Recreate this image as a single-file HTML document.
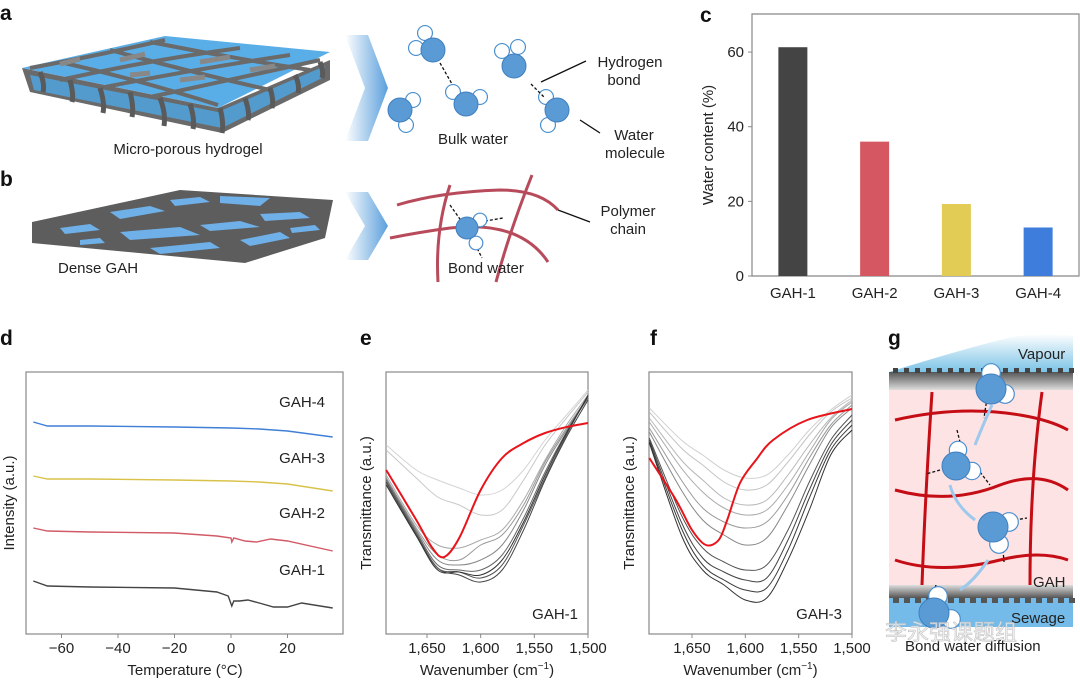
<!DOCTYPE html>
<html><head><meta charset="utf-8"><style>
html,body{margin:0;padding:0;background:#fff;}
svg{display:block;font-family:"Liberation Sans",sans-serif;}
</style></head><body>
<svg id="fig" width="1080" height="685" viewBox="0 0 1080 685" xmlns="http://www.w3.org/2000/svg">
<defs>
<linearGradient id="chev" x1="0" x2="1" y1="0" y2="0"><stop offset="0" stop-color="#fff"/><stop offset="1" stop-color="#5b9fdc"/></linearGradient>
<linearGradient id="vap" x1="0" x2="0" y1="0" y2="1"><stop offset="0" stop-color="#fff"/><stop offset="1" stop-color="#7cc3e6"/></linearGradient>
<linearGradient id="gband" x1="0" x2="0" y1="0" y2="1"><stop offset="0" stop-color="#555"/><stop offset="1" stop-color="#ddd"/></linearGradient>
<linearGradient id="gband2" x1="0" x2="0" y1="0" y2="1"><stop offset="0" stop-color="#ddd"/><stop offset="1" stop-color="#555"/></linearGradient>
</defs>
<!-- panel letters -->
<g font-weight="bold" font-size="21" fill="#111">
<text x="0" y="20">a</text><text x="0" y="186">b</text><text x="700" y="22">c</text>
<text x="0" y="345">d</text><text x="360" y="345">e</text><text x="650" y="345">f</text><text x="888" y="345">g</text>
</g>
<!-- panel a -->
<g>
<polygon points="22,68 218,108 330,60 330,80 222,133 30,92" fill="#6a6a6a"/>
<polygon points="22,68 165,36 330,52 218,108" fill="#5aaee8"/>
<polygon points="30,75 218,112 325,66 322,78 222,128 34,90" fill="#4ea6e6" opacity="0.8"/>
<path d="M30,68 Q100,55 165,40 M60,80 Q150,60 240,48 M100,88 Q190,70 290,55 M150,97 Q230,80 320,60 M60,62 Q140,80 218,105 M110,50 Q190,72 270,90 M150,42 Q230,58 310,70" stroke="#6a6a6a" stroke-width="4" fill="none"/>
<path d="M40,72 q5,12 3,20 M70,80 q4,15 2,22 M100,88 q5,15 3,25 M130,92 q4,15 2,25 M160,98 q6,15 4,28 M190,104 q5,15 3,25 M220,108 q4,15 2,25 M245,98 q5,15 3,22 M270,88 q4,12 2,20 M295,75 q5,10 3,18 M320,62 q4,10 2,16" stroke="#5a5a5a" stroke-width="5" fill="none"/>
<path d="M60,64 l20,-5 M120,60 l25,-6 M200,62 l30,-5 M180,80 l25,-3 M250,70 l25,-4 M130,75 l20,-2" stroke="#888" stroke-width="5" fill="none"/>
</g>
<text x="188" y="154" font-size="15" text-anchor="middle" fill="#222">Micro-porous hydrogel</text>
<polygon points="345,35 368,35 388,88 368,141 345,141 365,88" fill="url(#chev)"/>
<g id="molA"></g>
<g stroke="#111" stroke-width="1.3">
<line x1="541" y1="82" x2="586" y2="61"/><line x1="580" y1="120" x2="600" y2="133"/><line x1="558" y1="210" x2="590" y2="222"/>
</g>
<g font-size="15" fill="#222" text-anchor="middle">
<text x="473" y="144">Bulk water</text>
<text x="630" y="67">Hydrogen</text><text x="624" y="85">bond</text>
<text x="634" y="140">Water</text><text x="635" y="158">molecule</text>
<text x="628" y="216">Polymer</text><text x="628" y="234">chain</text>
</g>
<!-- panel b -->
<g>
<polygon points="32,222 180,190 333,200 325,238 245,263 32,243" fill="#5d5d5d"/>
<path d="M60,228 l30,-4 10,6 -35,4z M110,212 l40,-6 15,5 -45,8z M170,200 l30,-3 10,5 -35,4z M220,196 l50,2 -10,8 -40,-3z M120,232 l60,-5 20,8 -70,5z M200,225 l40,-4 20,6 -50,4z M260,214 l40,-2 10,6 -45,3z M150,248 l60,-6 10,6 -60,6z M240,240 l40,-8 10,6 -40,8z M80,240 l20,-2 5,5 -25,2z M290,228 l25,-3 5,5 -28,3z" fill="#6fb0e8"/>
</g>
<text x="58" y="273" font-size="15" fill="#222">Dense GAH</text>
<polygon points="345,192 368,192 388,226 368,260 345,260 365,226" fill="url(#chev)"/>
<g stroke="#b84b5b" stroke-width="3" fill="none">
<path d="M397,205 Q440,192 500,190 Q540,190 558,210"/>
<path d="M390,238 Q420,232 450,228 Q520,220 548,262"/>
<path d="M450,185 Q435,230 438,282"/>
<path d="M532,175 Q510,230 496,282"/>
</g>
<g id="molB"></g>
<text x="448" y="273" font-size="15" fill="#222">Bond water</text>

<g id="chartC"></g>
<g id="chartD"></g>
<g id="chartE"></g>
<g id="chartF"></g>

<!-- panel g -->
<g>
<path d="M889,372 Q960,350 1000,340 Q1040,330 1073,336 L1073,372 Z" fill="url(#vap)"/>
<rect x="889" y="372" width="184" height="18" fill="url(#gband)"/>
<g id="teethTop" fill="#444"></g>
<rect x="889" y="390" width="184" height="195" fill="#fde3e4"/>
<rect x="889" y="585" width="184" height="13" fill="url(#gband2)"/>
<rect x="889" y="598" width="184" height="29" fill="#74bbe9"/>
<g id="teethBot" fill="#555"></g>
<g stroke="#c40d14" stroke-width="3" fill="none">
<path d="M895,420 Q960,405 1020,415 Q1050,420 1068,430"/>
<path d="M895,490 Q950,505 1000,485 Q1040,470 1068,490"/>
<path d="M895,560 Q940,575 1000,560 Q1040,550 1068,560"/>
<path d="M932,392 Q925,500 922,585"/>
<path d="M1042,392 Q1030,480 1030,585"/>
</g>
<g fill="none" stroke="#9cc9ec" stroke-width="3">
<path d="M975,445 Q985,420 992,405"/><path d="M975,520 Q955,505 950,485"/><path d="M960,590 Q975,580 988,560"/>
</g>
<g id="molG"></g>
</g>
<g font-size="15" fill="#222">
<text x="1018" y="359">Vapour</text><text x="1033" y="587">GAH</text><text x="1011" y="623">Sewage</text>
<text x="905" y="651">Bond water diffusion</text>
</g>
<text x="885" y="640" font-size="22" fill="#eeeeee" fill-opacity="0.8" stroke="#bbb" stroke-width="0.5" font-family="'Liberation Sans','Noto Sans CJK SC',sans-serif">李永强课题组</text>
</svg>
<script>
// ---------- data ----------
const barCats = ["GAH-1","GAH-2","GAH-3","GAH-4"];
const barVals = [61.3, 36.0, 19.3, 13.0];
const barColors = ["#444444","#d45762","#e3cc55","#3e7ddb"];
const barTicks = [0,20,40,60];

const dscTicks = [-60,-40,-20,0,20];
const dscLabels = ["GAH-4","GAH-3","GAH-2","GAH-1"];
const dsc4T = [-70,-65,-50,-20,0,10,20,36];
const dsc4V = [212,208,208,207,206,205,203,197];
const dsc3T = [-70,-65,-50,-20,0,10,20,36];
const dsc3V = [158,155,155,154,153,152,150,143];
const dsc2T = [-70,-65,-50,-20,-5,0,0.3,1,5,9,14,20,36];
const dsc2V = [106,103,102,101,98,96,92,96,93,92,95,93,83];
const dsc1T = [-70,-65,-50,-20,-5,-1,0.3,1,3,6,10,15,20,25,36];
const dsc1V = [53,48,47,46,42,38,28,33,33,34,31,27,27,31,26];

const wnTicks = [1650,1600,1550,1500];
const eWn = [1688,1660,1640,1620,1600,1580,1560,1540,1520,1500];
const eGray = [
 [189,164,154,146,139,144,164,194,219,244],
 [184,156,137,129,119,124,154,189,216,242],
 [159,109,89,86,94,104,134,174,209,239],
 [156,106,79,74,89,99,129,172,206,237],
 [156,104,74,69,74,89,124,169,204,236],
 [154,102,69,64,64,79,116,162,202,236],
 [152,100,66,59,52,64,104,154,197,234],
 [151,99,66,62,56,69,109,156,199,239],
 [149,98,64,62,59,74,112,159,201,238]
];
const eRedWn = [1688,1660,1645,1634,1620,1600,1580,1560,1540,1520,1500];
const eRed = [164,114,86,77,96,144,176,191,201,207,211];

const fWn = [1690,1660,1640,1620,1600,1580,1560,1540,1520,1500];
const fGray = [
 [226,194,179,164,156,159,179,204,224,239],
 [222,186,169,152,144,149,172,199,222,236],
 [216,174,154,136,129,134,159,189,216,234],
 [212,166,142,126,119,124,149,182,214,232],
 [206,154,126,112,106,112,139,176,209,229],
 [202,144,114,99,89,96,129,169,206,226],
 [196,119,86,72,64,69,104,152,194,219],
 [194,112,76,62,54,56,94,144,189,214],
 [192,106,69,54,44,46,84,136,184,209],
 [191,99,64,49,34,36,74,124,179,204]
];
const fRedWn = [1690,1665,1650,1637,1625,1617,1605,1590,1574,1542,1500];
const fRed = [176,134,104,89,94,114,151,174,194,214,225];

// ---------- helpers ----------
const NS="http://www.w3.org/2000/svg";
function mk(tag, parent, attrs){const e=document.createElementNS(NS,tag);for(const k in attrs)e.setAttribute(k,attrs[k]);parent.appendChild(e);return e;}
function lin(d0,d1,r0,r1){return v=>r0+(v-d0)*(r1-r0)/(d1-d0);}
function smooth(pts){let d="M"+pts[0][0].toFixed(1)+","+pts[0][1].toFixed(1);
 for(let i=0;i<pts.length-1;i++){const p0=pts[i-1]||pts[i],p1=pts[i],p2=pts[i+1],p3=pts[i+2]||p2;
  const c1=[p1[0]+(p2[0]-p0[0])/6,p1[1]+(p2[1]-p0[1])/6],c2=[p2[0]-(p3[0]-p1[0])/6,p2[1]-(p3[1]-p1[1])/6];
  d+=" C"+c1.join(",")+" "+c2.join(",")+" "+p2[0].toFixed(1)+","+p2[1].toFixed(1);}return d;}
function linePath(pts){return "M"+pts.map(p=>p[0].toFixed(1)+","+p[1].toFixed(1)).join(" L");}
function txt(parent,x,y,s,attrs){const t=mk("text",parent,Object.assign({x:x,y:y,"font-size":15,fill:"#222"},attrs||{}));t.textContent=s;return t;}
function mol(parent,cx,cy,r,hs){hs.forEach(h=>{mk("circle",parent,{cx:cx+h[0],cy:cy+h[1],r:r*0.62,fill:"#fff",stroke:"#4a8fd0","stroke-width":1.2});});
 mk("circle",parent,{cx:cx,cy:cy,r:r,fill:"#5b9bd5",stroke:"#3f7fc0","stroke-width":1});}

// ---------- molecules ----------
const mA=document.getElementById("molA");
mol(mA,433,50,12,[[-8,-17],[-17,-2]]);
mol(mA,466,104,12,[[-13,-12],[14,-7]]);
mol(mA,400,110,12,[[13,-10],[6,15]]);
mol(mA,514,66,12,[[-12,-15],[4,-19]]);
mol(mA,557,110,12,[[-11,-13],[-9,15]]);
mk("path",mA,{d:"M440,63 L452,84 M531,84 L545,98",stroke:"#111","stroke-width":1.3,"stroke-dasharray":"3 2",fill:"none"});
const mB=document.getElementById("molB");
mk("path",mB,{d:"M450,205 L462,222 M480,222 L503,218 M475,244 L482,258",stroke:"#111","stroke-width":1.3,"stroke-dasharray":"3 2",fill:"none"});
mol(mB,467,228,11,[[13,-8],[9,15]]);
const mG=document.getElementById("molG");
mk("path",mG,{d:"M987,398 L984,418 M957,430 L960,442 M940,470 L926,474 M980,472 L990,485 M1015,520 L1027,518 M1003,550 L1004,562 M936,585 L933,595",stroke:"#111","stroke-width":1.3,"stroke-dasharray":"3 2",fill:"none"});
mol(mG,991,389,15,[[0,-16],[14,5]]);
mol(mG,956,466,14,[[2,-16],[16,5]]);
mol(mG,993,527,15,[[16,-5],[6,17]]);
mol(mG,934,613,15,[[4,-17],[17,6]]);
const tt=document.getElementById("teethTop"),tb=document.getElementById("teethBot");
for(let x=893;x<1073;x+=11){mk("rect",tt,{x:x,y:368,width:5,height:5});mk("rect",tb,{x:x,y:598,width:6,height:5});}

// ---------- panel c ----------
(function(){
 const g=document.getElementById("chartC");
 const L=752,R=1079,T=14,B=276;
 const y=lin(0,70.2,B,T);
 const band=(R-L)/barCats.length;
 mk("path",g,{d:`M${L},${T} H${R} V${B} H${L} Z`,fill:"none",stroke:"#888","stroke-width":1.2});
 barTicks.forEach(v=>{
  const tk=mk("line",g,{x1:L-4,x2:L,y1:y(v),y2:y(v),stroke:"#888"});
  
  
  const t=txt(g,L-8,y(v)+5,String(v),{"text-anchor":"end"});
  
  
 });
 barCats.forEach((c,i)=>{
  const cx=L+band*(i+0.5);
  const b=mk("rect",g,{x:cx-14.5,y:y(barVals[i]),width:29,height:B-y(barVals[i]),fill:barColors[i]});
  
  
  const t=txt(g,cx,298,c,{"text-anchor":"middle"});
  
  
 });
 const yt=txt(g,0,0,"Water content (%)",{"text-anchor":"middle",transform:`translate(713,145) rotate(-90)`});
 
 
})();

// ---------- panel d ----------
(function(){
 const g=document.getElementById("chartD");
 const L=26,R=343,T=372,B=634;
 const x=lin(0,20,231,287.5), y=lin(0,262,B,T);
 mk("rect",g,{x:L,y:T,width:R-L,height:B-T,fill:"none",stroke:"#888","stroke-width":1.2});
 dscTicks.forEach(v=>{
  const tk=mk("line",g,{x1:x(v),x2:x(v),y1:B,y2:B+4,stroke:"#888"});
  
  
  const t=txt(g,x(v),653,(v<0?"\u2212"+(-v):String(v)),{"text-anchor":"middle"});
  
  
 });
 const series=[[dsc4T,dsc4V,"#3f7fd6"],[dsc3T,dsc3V,"#d9c24a"],[dsc2T,dsc2V,"#d25a66"],[dsc1T,dsc1V,"#444"]];
 series.forEach((s,i)=>{
  const p=mk("path",g,{d:linePath(s[0].map((t,j)=>[x(t),y(s[1][j])])),fill:"none",stroke:s[2],"stroke-width":1.4});
  
  
 });
 const ly=[402,458,513,570];
 dscLabels.forEach((l,i)=>{const t=txt(g,325,ly[i]+5,l,{"text-anchor":"end"});
  
  });
 const xt=txt(g,185,675,"Temperature (°C)",{"text-anchor":"middle"});
 
 
 const yt=txt(g,0,0,"Intensity (a.u.)",{"text-anchor":"middle",transform:"translate(14,503) rotate(-90)"});
 
 
})();

// ---------- panels e & f ----------
function ftir(id,L,R,x1650,x1500,wn,gray,redWn,red,label,grayCols){
 const g=document.getElementById(id);
 const T=372,B=634;
 const x=lin(1650,1500,x1650,x1500), y=lin(0,262,B,T);
 mk("rect",g,{x:L,y:T,width:R-L,height:B-T,fill:"none",stroke:"#888","stroke-width":1.2});
 wnTicks.forEach(v=>{
  if(x(v)>R+1)return;
  const tk=mk("line",g,{x1:x(v),x2:x(v),y1:B,y2:B+4,stroke:"#888"});
  
  
  const t=txt(g,x(v),653,v.toLocaleString("en-US"),{"text-anchor":"middle"});
  
  
 });
 gray.forEach((s,i)=>{
  const p=mk("path",g,{d:smooth(wn.map((w,j)=>[x(w),y(s[j])])),fill:"none",stroke:grayCols[i],"stroke-width":1});
  
  
 });
 const r=mk("path",g,{d:smooth(redWn.map((w,j)=>[x(w),y(red[j])])),fill:"none",stroke:"#e8141a","stroke-width":2});
 
 
 const lb=txt(g,R-10,619,label,{"text-anchor":"end"});
 
 
 const xt=txt(g,(L+R)/2,675,"Wavenumber (cm",{"text-anchor":"middle"});
 const sup=mk("tspan",xt,{dy:-6,"font-size":10});sup.textContent="\u22121";
 const cl=mk("tspan",xt,{dy:6});cl.textContent=")";
 
 
 const yt=txt(g,0,0,"Transmittance (a.u.)",{"text-anchor":"middle",transform:`translate(${L-15},503) rotate(-90)`});
 
 
}
ftir("chartE",386,588,427,588,eWn,eGray,eRedWn,eRed,"GAH-1",["#d4d4d4","#c8c8c8","#aaa","#999","#888","#666","#444","#555","#333"]);
ftir("chartF",649,852,692,852,fWn,fGray,fRedWn,fRed,"GAH-3",["#d0d0d0","#c4c4c4","#b8b8b8","#aaa","#999","#888","#555","#444","#3a3a3a","#333"]);
</script>
</body></html>
